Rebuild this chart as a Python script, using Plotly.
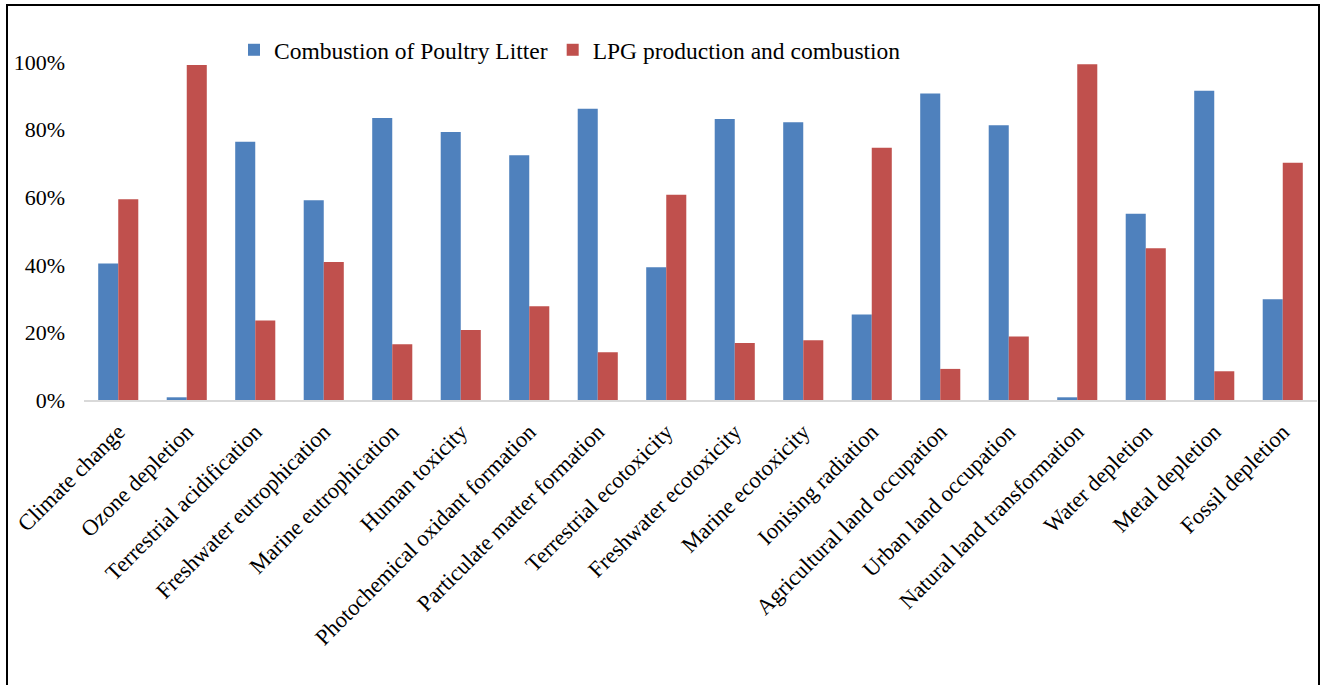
import plotly.graph_objects as go

categories = [
    "Climate change", "Ozone depletion", "Terrestrial acidification",
    "Freshwater eutrophication", "Marine eutrophication", "Human toxicity",
    "Photochemical oxidant formation", "Particulate matter formation",
    "Terrestrial ecotoxicity", "Freshwater ecotoxicity", "Marine ecotoxicity",
    "Ionising radiation", "Agricultural land occupation", "Urban land occupation",
    "Natural land transformation", "Water depletion", "Metal depletion",
    "Fossil depletion",
]

poultry_litter = [40.4, 0.8, 76.4, 59.1, 83.4, 79.3, 72.4, 86.2, 39.3,
                  83.1, 82.2, 25.3, 90.7, 81.3, 0.8, 55.1, 91.5, 29.8]
lpg = [59.4, 99.1, 23.5, 40.8, 16.5, 20.7, 27.7, 14.1, 60.7,
       16.9, 17.7, 74.6, 9.2, 18.8, 99.3, 44.9, 8.5, 70.2]

y_ticks = [0, 20, 40, 60, 80, 100]
y_tick_text = [f"{v}%" for v in y_ticks]

FONT = "Liberation Serif, Times New Roman, serif"

fig = go.Figure()
fig.add_trace(go.Bar(
    x=categories, y=poultry_litter, name="Combustion of Poultry Litter",
    marker=dict(color="#4F81BD", line=dict(width=0)),
))
fig.add_trace(go.Bar(
    x=categories, y=lpg, name="LPG production and combustion",
    marker=dict(color="#C0504D", line=dict(width=0)),
))

W, H = 1325, 685
L, R, T, B = 84, W - 1317, 62, H - 400
pw, ph = W - L - R, H - T - B

def px_x(p):
    return (p - L) / pw

def px_y(p):
    return (H - B - p) / ph

fig.update_layout(
    width=W, height=H,
    margin=dict(l=L, r=R, t=T, b=B, pad=0),
    paper_bgcolor="white", plot_bgcolor="white",
    font=dict(family=FONT, size=22, color="black"),
    barmode="group", bargap=0.415, bargroupgap=0,
    showlegend=True,
    legend=dict(
        orientation="h", x=px_x(234), xanchor="left",
        y=px_y(50), yanchor="middle",
        font=dict(family=FONT, size=23.5, color="black"),
        bgcolor="rgba(0,0,0,0)", itemwidth=30,
        traceorder="normal",
    ),
    xaxis=dict(
        showline=True, linecolor="#d9d9d9", linewidth=1.5,
        showgrid=False, ticks="", tickangle=-45,
        tickfont=dict(family=FONT, size=22.5, color="black"),
        ticklabelstandoff=8, fixedrange=True,
    ),
    yaxis=dict(
        range=[0, 100], tickvals=y_ticks, ticktext=y_tick_text,
        showgrid=False, zeroline=False, showline=False, ticks="",
        tickfont=dict(family=FONT, size=22, color="black"),
        ticklabelstandoff=18, fixedrange=True,
    ),
    shapes=[dict(
        type="rect", xref="paper", yref="paper",
        x0=px_x(7), x1=px_x(1319), y0=px_y(720), y1=px_y(5),
        line=dict(color="black", width=2), fillcolor="rgba(0,0,0,0)",
        layer="above",
    )],
)

fig.write_html("out.html", config={"displayModeBar": False})
